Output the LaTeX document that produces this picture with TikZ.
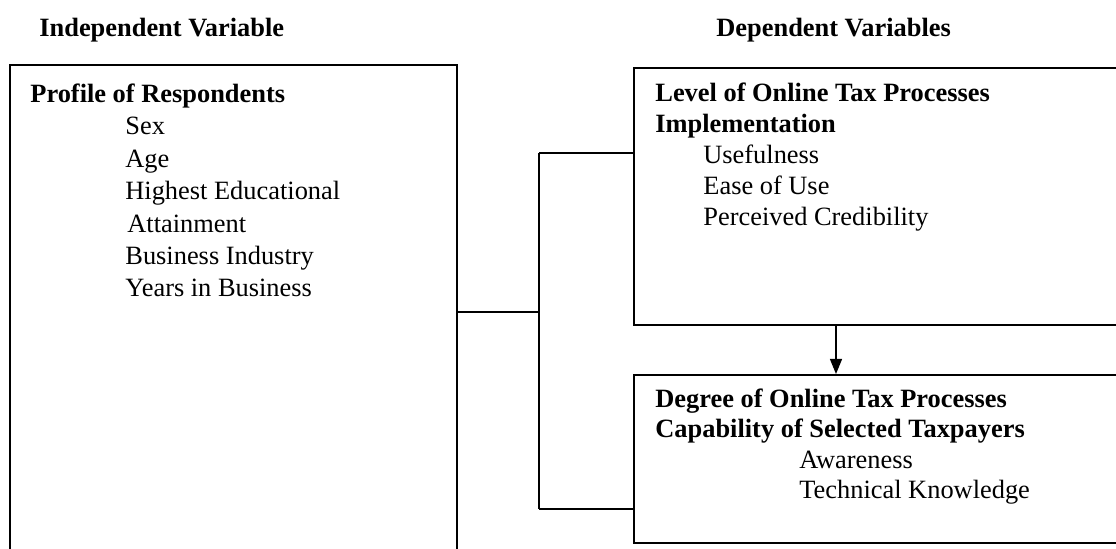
\documentclass[tikz,border=0pt]{standalone}
\usepackage{fontspec}
\setmainfont{Liberation Serif}
\usetikzlibrary{arrows.meta}

\begin{document}
\begin{tikzpicture}[x=0.5pt,y=-0.5pt,
  box/.style={draw, line width=1pt, rectangle, anchor=north west, inner sep=0pt},
  txt/.style={anchor=base west, inner sep=0pt, align=left},
  link/.style={line width=1pt},
  flow/.style={line width=0.6pt, -{Triangle[length=7.5pt,width=6pt]}}]
\clip (0,0) rectangle (1116,549);
% titles
\node[txt, font=\fontsize{13.2}{15.5}\selectfont\bfseries] (indep) at (39,37) {Independent Variable};
\node[txt, font=\fontsize{13.2}{15.5}\selectfont\bfseries] (dep) at (716,37) {Dependent Variables};
% boxes
\node[box, minimum width=223.5pt, minimum height=300pt] (profile) at (9,64) {};
\node[box, minimum width=248.5pt, minimum height=128.5pt] (level) at (633,67) {};
\node[box, minimum width=248.5pt, minimum height=84pt] (degree) at (633,374) {};
% box texts (placed at the baseline of their last line)
\node[txt, font=\fontsize{13.2}{16.2}\selectfont] (profiletxt) at (30,297)
  {\textbf{Profile of Respondents}\\
   \hspace*{47.5pt}Sex\\
   \hspace*{47.5pt}Age\\
   \hspace*{47.5pt}Highest Educational\\
   \hspace*{48.5pt}Attainment\\
   \hspace*{47.5pt}Business Industry\\
   \hspace*{47.5pt}Years in Business};
\node[txt, font=\fontsize{13.2}{15.5}\selectfont] (leveltxt) at (655,226)
  {\textbf{Level of Online Tax Processes}\\
   \textbf{Implementation}\\
   \hspace*{24pt}Usefulness\\
   \hspace*{24pt}Ease of Use\\
   \hspace*{24pt}Perceived Credibility};
\node[txt, font=\fontsize{13.2}{15.25}\selectfont] (degreetxt) at (655,499)
  {\textbf{Degree of Online Tax Processes}\\
   \textbf{Capability of Selected Taxpayers}\\
   \hspace*{72pt}Awareness\\
   \hspace*{72pt}Technical Knowledge};
% connectors
\coordinate (hub) at (539,312);
\coordinate (jtop) at (539,153);
\coordinate (jbot) at (539,509);
\coordinate (arr) at (836,0);
\draw[link] (profile.east |- hub) -- (hub);
\draw[link] (jtop) -- (jbot);
\draw[link] (jtop) -- (level.west |- jtop);
\draw[link] (jbot) -- (degree.west |- jbot);
\draw[flow] (level.south -| arr) -- (degree.north -| arr);
\end{tikzpicture}
\end{document}
